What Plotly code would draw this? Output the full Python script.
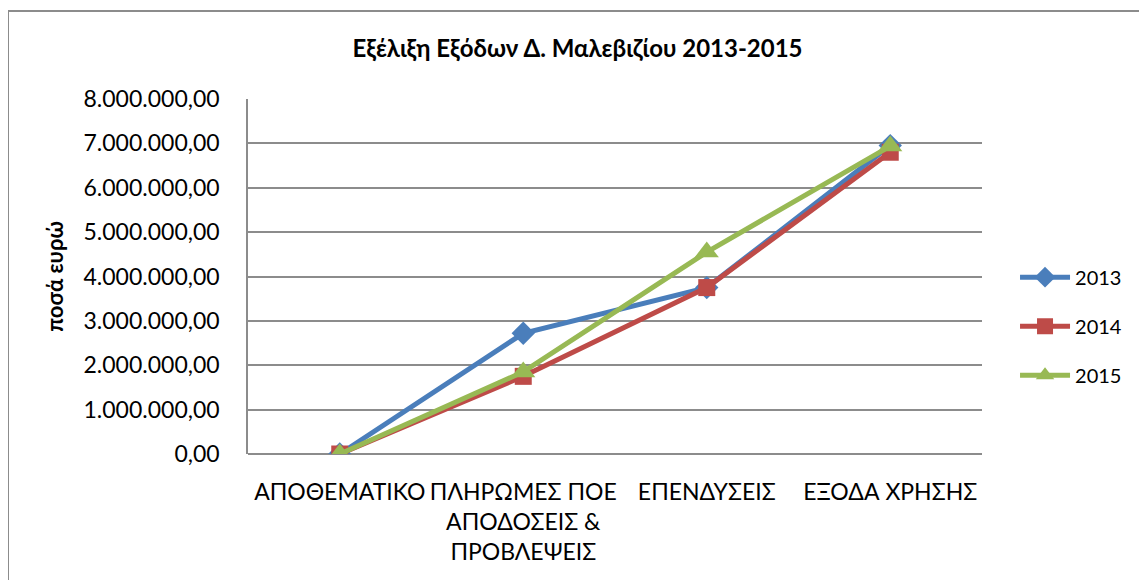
import plotly.graph_objects as go

categories = ["ΑΠΟΘΕΜΑΤΙΚΟ", "ΠΛΗΡΩΜΕΣ ΠΟΕ<br>ΑΠΟΔΟΣΕΙΣ &<br>ΠΡΟΒΛΕΨΕΙΣ", "ΕΠΕΝΔΥΣΕΙΣ", "ΕΞΟΔΑ ΧΡΗΣΗΣ"]
y2013 = [0, 2720000, 3750000, 6950000]
y2014 = [0, 1750000, 3750000, 6800000]
y2015 = [0, 1850000, 4550000, 6940000]

tick_vals = [i * 1000000 for i in range(9)]
tick_text = [f"{i}.000.000,00" if i else "0,00" for i in range(9)]

font = "Lato, 'Open Sans', sans-serif"

fig = go.Figure()
series = [
    ("2013", y2013, "#4a7ebb", "diamond", 18),
    ("2014", y2014, "#be4b48", "square", 17),
    ("2015", y2015, "#98b954", "triangle-up", 21),
]
for name, ys, color, sym, size in series:
    fig.add_trace(go.Scatter(
        x=categories, y=ys, name=name, mode="lines+markers", legendgroup=name,
        line=dict(color=color, width=5),
        marker=dict(symbol=sym, size=size, color=color),
    ))

# page body adds an 8px offset, so the figure is sized 8px smaller
fig.update_layout(
    width=1139, height=572,
    margin=dict(l=240, r=165, t=91, b=126),
    paper_bgcolor="white", plot_bgcolor="white",
    font=dict(family=font, size=19, color="black"),
    title=dict(text="<b>Εξέλιξη Εξόδων Δ. Μαλεβιζίου 2013-2015</b>",
               x=0.5, xanchor="center", y=1 - 41 / 572, yanchor="middle",
               font=dict(size=24)),
    legend=dict(x=1.045, y=0.36, yanchor="middle", font=dict(size=20),
                traceorder="grouped", tracegroupgap=20, itemwidth=50),
    showlegend=True,
    xaxis=dict(range=[-0.5, 3.5], showgrid=False, showline=False, ticks="",
               tickangle=0, tickfont=dict(size=23), automargin=False,
               ticklabelstandoff=22),
    yaxis=dict(range=[0, 8000000], tickvals=tick_vals, ticktext=tick_text,
               showgrid=True, gridcolor="#8c8c8c", gridwidth=1.5,
               showline=True, linecolor="#8c8c8c", linewidth=1.5,
               ticks="", ticklabelstandoff=22, tickfont=dict(size=23),
               zeroline=True, zerolinecolor="#8c8c8c", zerolinewidth=1.5,
               automargin=False,
               title=dict(text="<b>ποσά ευρώ</b>", font=dict(size=22), standoff=14)),
    shapes=[dict(type="rect", xref="paper", yref="paper",
                 x0=-240 / 734, x1=1.3, y0=-0.6, y1=1 + 88 / 355,
                 line=dict(color="#8c8c8c", width=2), fillcolor="rgba(0,0,0,0)")],
)

fig.write_html("out.html")
